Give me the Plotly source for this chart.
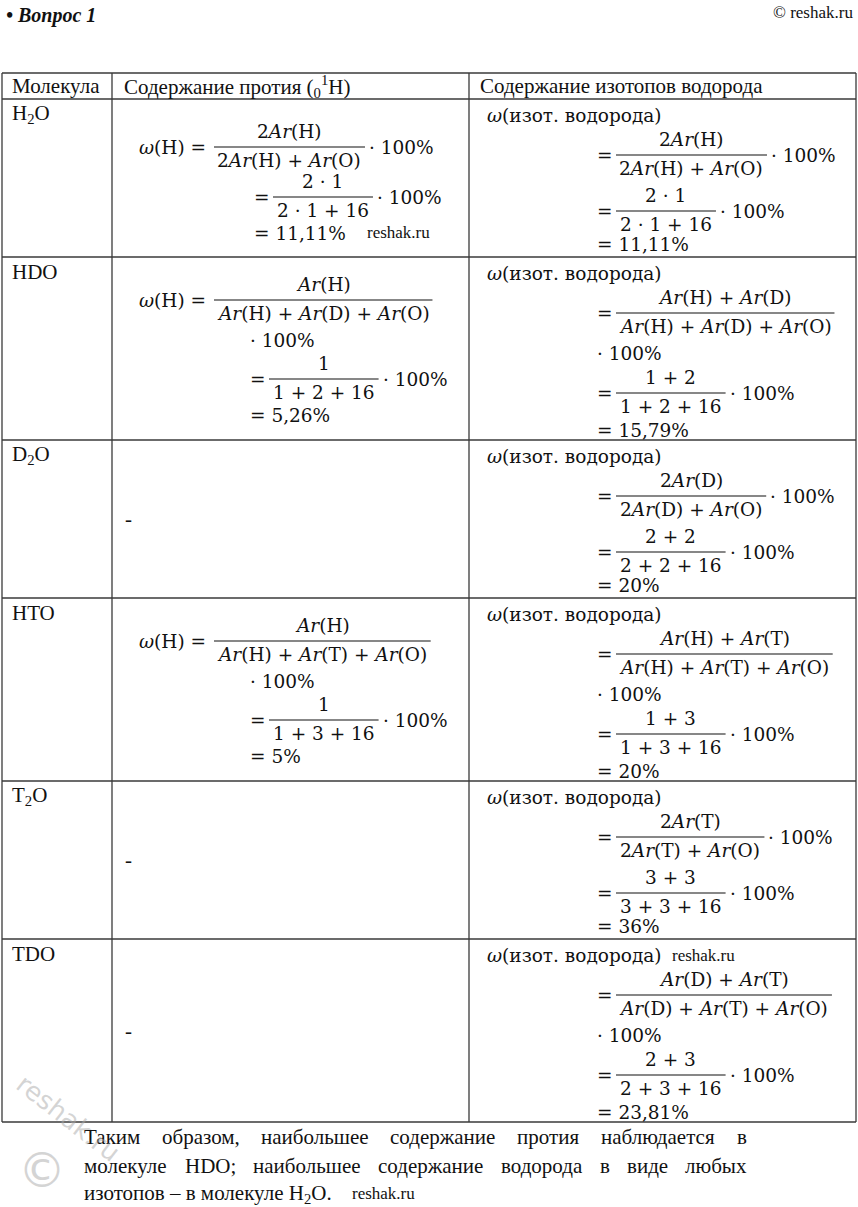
import re
import plotly.graph_objects as go

# ---- content of the table ----
header = ["Молекула", "Содержание протия (<sub>0</sub><sup>1</sup>H)", "Содержание изотопов водорода"]
molecules = ["H<sub>2</sub>O", "HDO", "D<sub>2</sub>O", "HTO", "T<sub>2</sub>O", "TDO"]

# protium column (None -> dash)
prot_num = ["2<i>Ar</i>(H)", "<i>Ar</i>(H)", None, "<i>Ar</i>(H)", None, None]
prot_den = ["2<i>Ar</i>(H) + <i>Ar</i>(O)",
            "<i>Ar</i>(H) + <i>Ar</i>(D) + <i>Ar</i>(O)", None,
            "<i>Ar</i>(H) + <i>Ar</i>(T) + <i>Ar</i>(O)", None, None]
prot_num2 = ["2 · 1", "1", None, "1", None, None]
prot_den2 = ["2 · 1 + 16", "1 + 2 + 16", None, "1 + 3 + 16", None, None]
prot_res = ["11,11%", "5,26%", None, "5%", None, None]

# isotope column
iso_num = ["2<i>Ar</i>(H)", "<i>Ar</i>(H) + <i>Ar</i>(D)", "2<i>Ar</i>(D)",
           "<i>Ar</i>(H) + <i>Ar</i>(T)", "2<i>Ar</i>(T)", "<i>Ar</i>(D) + <i>Ar</i>(T)"]
iso_den = ["2<i>Ar</i>(H) + <i>Ar</i>(O)",
           "<i>Ar</i>(H) + <i>Ar</i>(D) + <i>Ar</i>(O)",
           "2<i>Ar</i>(D) + <i>Ar</i>(O)",
           "<i>Ar</i>(H) + <i>Ar</i>(T) + <i>Ar</i>(O)",
           "2<i>Ar</i>(T) + <i>Ar</i>(O)",
           "<i>Ar</i>(D) + <i>Ar</i>(T) + <i>Ar</i>(O)"]
iso_num2 = ["2 · 1", "1 + 2", "2 + 2", "1 + 3", "3 + 3", "2 + 3"]
iso_den2 = ["2 · 1 + 16", "1 + 2 + 16", "2 + 2 + 16", "1 + 3 + 16", "3 + 3 + 16", "2 + 3 + 16"]
iso_res = ["11,11%", "15,79%", "20%", "20%", "36%", "23,81%"]

para_lines = ["Таким образом, наибольшее содержание протия наблюдается в",
              "молекуле HDO; наибольшее содержание водорода в виде любых",
              "изотопов – в молекуле H<sub>2</sub>O."]

# ---- layout ----
W, H = 858, 1207
COL_X = [2, 112, 469, 856]
ROW_Y = [73, 99, 257, 440, 598, 781, 939, 1122]
MATH = "DejaVu Serif"
TEXT = "Liberation Serif"
MS = 18.5
TS = 21
INK = "#111111"

# rough glyph widths (em) for width estimates
DV = {' ': .318, '+': .838, '=': .838, '(': .39, ')': .39, 'A': .722, 'r': .478,
      'H': .872, 'D': .83, 'O': .787, 'T': .734, '·': .318, ',': .318, '%': .95}
TM = dict(zip("абвгдеёжзийклмнопрстуфхцчшщъыьэюя",
              [.444, .5, .472, .41, .5, .444, .444, .72, .395, .535, .535, .49, .5, .62, .535, .5,
               .535, .5, .444, .44, .5, .65, .5, .535, .5, .77, .77, .55, .7, .47, .44, .75, .48]))
TM.update({' ': .25, ',': .25, ';': .278, '.': .25, '–': .5, 'Т': .61, 'H': .72, 'D': .72, 'O': .72})


def plain(s):
    return re.sub(r"<[^>]+>", "", s)


def width_math(s):
    return sum(DV.get(c, .636) for c in plain(s)) * MS


def width_text(s):
    return sum(TM.get(c, .5) for c in plain(s)) * TS


annotations = []
shapes = []


def add_text(x, y, s, size=MS, family=MATH, anchor="left", color=INK, **kw):
    annotations.append(dict(x=x, y=y, xref="x", yref="y", text=s, showarrow=False,
                            xanchor=anchor, yanchor="middle",
                            font=dict(family=family, size=size, color=color), **kw))


def add_frac(x0, y, num, den):
    w = max(width_math(num), width_math(den)) + 8
    shapes.append(dict(type="line", xref="x", yref="y", x0=x0, x1=x0 + w, y0=y, y1=y,
                       line=dict(color=INK, width=1.2)))
    add_text(x0 + w / 2, y - 16, num, anchor="center")
    add_text(x0 + w / 2, y + 13, den, anchor="center")
    return x0 + w


# grid
gx, gy = [], []
for y in ROW_Y:
    gx += [COL_X[0], COL_X[-1], None]
    gy += [y, y, None]
for x in COL_X:
    gx += [x, x, None]
    gy += [ROW_Y[0], ROW_Y[-1], None]

fig = go.Figure(go.Scatter(x=gx, y=gy, mode="lines", line=dict(color="#3a3a3a", width=1.3),
                           hoverinfo="skip", showlegend=False))

# header
hy = (ROW_Y[0] + ROW_Y[1]) / 2
for txt, x in zip(header, [10, 122, 478]):
    add_text(x, hy, txt, size=TS, family=TEXT)

for i, mol in enumerate(molecules):
    top, bot = ROW_Y[i + 1], ROW_Y[i + 2]
    add_text(10, top + 15, mol, size=TS, family=TEXT)

    # protium
    if prot_num[i] is None:
        add_text(123, (top + bot) / 2, "-", size=TS, family=TEXT)
    else:
        wrap = prot_den[i].count("Ar") >= 3
        if wrap:
            b1, dot, b2, rs = top + 43, top + 83, top + 122, top + 158
        else:
            b1, b2, rs = top + 48, top + 98, top + 134
        add_text(137, b1, "<i>ω</i>(H) =")
        end = add_frac(214, b1, prot_num[i], prot_den[i])
        if wrap:
            xe = 248
            add_text(xe, dot, "· 100%")
        else:
            xe = 252
            add_text(end + 2, b1, "· 100%")
        add_text(xe, b2, "=")
        end2 = add_frac(xe + 21, b2, prot_num2[i], prot_den2[i])
        add_text(end2 + 2, b2, "· 100%")
        add_text(xe, rs, "= " + prot_res[i])

    # isotopes
    wrap = iso_den[i].count("Ar") >= 3
    add_text(485, top + 16, "<i>ω</i>(изот. водорода)")
    if wrap:
        b1, dot, b2, rs = top + 56, top + 96, top + 136, top + 173
    else:
        b1, b2, rs = top + 56, top + 112, top + 145
    add_text(595, b1, "=")
    end = add_frac(616, b1, iso_num[i], iso_den[i])
    if wrap:
        add_text(595, dot, "· 100%")
    else:
        add_text(end + 2, b1, "· 100%")
    add_text(595, b2, "=")
    end2 = add_frac(616, b2, iso_num2[i], iso_den2[i])
    add_text(end2 + 2, b2, "· 100%")
    add_text(595, rs, "= " + iso_res[i])

# closing paragraph, first two lines justified
PX0, PX1, PY0, PDY = 82, 745, 1137, 28.5
for k, line in enumerate(para_lines):
    y = PY0 + k * PDY
    if k == len(para_lines) - 1:
        add_text(PX0, y, line, size=TS, family=TEXT)
        continue
    words = line.split(" ")
    ws = [width_text(w) for w in words]
    gap = (PX1 - PX0 - sum(ws)) / (len(words) - 1)
    x = PX0
    for w, wd in zip(words, ws):
        add_text(x, y, w, size=TS, family=TEXT)
        x += wd + gap

# page decorations
add_text(4, 15, "<b><i>• Вопрос 1</i></b>", size=20, family=TEXT)
add_text(855, 12, "© reshak.ru", size=17, family=TEXT, anchor="right")
add_text(365, 232, "reshak.ru", size=17, family=TEXT)
add_text(670, 955, "reshak.ru", size=17, family=TEXT)
add_text(350, 1193, "reshak.ru", size=17, family=TEXT)
add_text(68, 1118, "reshak.ru", size=26, family="DejaVu Sans", color="rgba(170,170,170,0.5)",
         anchor="center", textangle=38)
add_text(42, 1170, "©", size=48, family="DejaVu Sans", color="rgba(170,170,170,0.5)", anchor="center")

fig.update_layout(
    width=W, height=H,
    margin=dict(l=0, r=0, t=0, b=0),
    paper_bgcolor="white", plot_bgcolor="white",
    xaxis=dict(range=[0, W], visible=False, fixedrange=True),
    yaxis=dict(range=[H, 0], visible=False, fixedrange=True),
    annotations=annotations, shapes=shapes,
    showlegend=False,
)

# drop the browser's default 8px body margin so the page matches the figure
fig.write_html("out.html", config={"displayModeBar": False},
               post_script="document.body.style.margin = '0';")
